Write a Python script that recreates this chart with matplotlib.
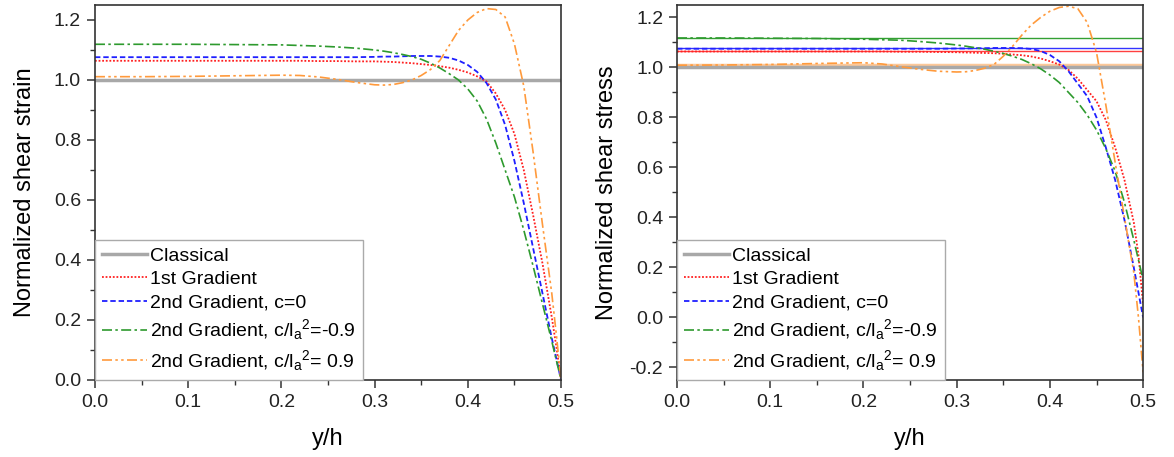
import numpy as np
import matplotlib
matplotlib.use("Agg")
import matplotlib.pyplot as plt

plt.rcParams['font.family'] = ['Liberation Sans', 'DejaVu Sans']
plt.rcParams['mathtext.default'] = 'regular'

yh = [0.0, 0.05, 0.1, 0.15, 0.2, 0.22, 0.24, 0.26, 0.28, 0.30, 0.31, 0.32, 0.33,
      0.34, 0.35, 0.36, 0.37, 0.38, 0.39, 0.40, 0.41, 0.42, 0.43, 0.44, 0.45,
      0.46, 0.47, 0.48, 0.49, 0.495, 0.5]

# normalized shear strain
strain_classical = [1.0] * len(yh)
strain_grad1 = [1.064, 1.064, 1.064, 1.064, 1.064, 1.064, 1.063, 1.063, 1.062, 1.062,
                1.061, 1.060, 1.058, 1.056, 1.053, 1.050, 1.046, 1.041, 1.034, 1.025,
                1.012, 0.995, 0.955, 0.90, 0.82, 0.70, 0.55, 0.39, 0.21, 0.11, 0.0]
strain_grad2_c0 = [1.076, 1.076, 1.076, 1.076, 1.076, 1.076, 1.076, 1.076, 1.076, 1.077,
                   1.078, 1.078, 1.079, 1.080, 1.080, 1.080, 1.078, 1.074, 1.065, 1.050,
                   1.027, 0.990, 0.935, 0.85, 0.73, 0.59, 0.44, 0.29, 0.14, 0.07, 0.0]
strain_grad2_neg = [1.119, 1.119, 1.119, 1.118, 1.117, 1.115, 1.113, 1.110, 1.106, 1.100,
                    1.096, 1.091, 1.085, 1.078, 1.069, 1.056, 1.040, 1.021, 1.000, 0.970,
                    0.930, 0.870, 0.790, 0.70, 0.61, 0.50, 0.38, 0.255, 0.13, 0.065, 0.0]
strain_grad2_pos = [1.011, 1.011, 1.012, 1.014, 1.016, 1.015, 1.010, 1.002, 0.992, 0.984,
                    0.983, 0.985, 0.991, 1.000, 1.015, 1.035, 1.065, 1.115, 1.165, 1.200,
                    1.225, 1.238, 1.235, 1.21, 1.12, 0.98, 0.76, 0.52, 0.29, 0.15, 0.0]

# normalized shear stress
stress_classical = [1.0] * len(yh)
stress_grad1 = [1.064, 1.064, 1.064, 1.064, 1.064, 1.064, 1.063, 1.063, 1.062, 1.061,
                1.060, 1.059, 1.058, 1.057, 1.055, 1.052, 1.049, 1.044, 1.036, 1.025,
                1.012, 0.990, 0.955, 0.91, 0.865, 0.79, 0.68, 0.55, 0.38, 0.25, 0.05]
stress_grad2_c0 = [1.075, 1.075, 1.075, 1.075, 1.075, 1.075, 1.075, 1.075, 1.075, 1.076,
                   1.076, 1.077, 1.077, 1.078, 1.078, 1.078, 1.077, 1.074, 1.066, 1.050,
                   1.025, 0.985, 0.935, 0.885, 0.80, 0.68, 0.55, 0.39, 0.20, 0.10, 0.0]
stress_grad2_neg = [1.118, 1.118, 1.117, 1.116, 1.113, 1.111, 1.109, 1.104, 1.098, 1.090,
                    1.085, 1.079, 1.073, 1.065, 1.056, 1.045, 1.032, 1.015, 0.995, 0.970,
                    0.940, 0.900, 0.860, 0.81, 0.75, 0.675, 0.585, 0.46, 0.31, 0.23, 0.15]
stress_grad2_pos = [1.009, 1.010, 1.012, 1.016, 1.019, 1.014, 1.003, 0.993, 0.985, 0.982,
                    0.983, 0.988, 0.997, 1.012, 1.045, 1.085, 1.130, 1.170, 1.200, 1.225,
                    1.240, 1.245, 1.235, 1.18, 1.06, 0.85, 0.62, 0.40, 0.18, 0.0, -0.22]
# flat reference levels drawn across the stress panel
stress_levels = [1.118, 1.076, 1.065, 1.010]

labels = ['Classical', '1st Gradient', '2nd Gradient, c=0',
          r'2nd Gradient, c/l$_a$$^2$=-0.9', r'2nd Gradient, c/l$_a$$^2$= 0.9']
colors = ['#a8a8a8', '#ff2020', '#1f1fff', '#2e9a2e', '#ff9a3c']
styles = ['-', (0, (1, 1)), (0, (3, 1.6)), (0, (6, 2, 1.5, 2)),
          (0, (6, 2, 1.5, 2, 1.5, 2))]
widths = [2.5, 1.3, 1.3, 1.2, 1.2]
level_colors = ['#33a033', '#3333ff', '#ff4040', '#fcc899']
level_widths = [1.0, 1.0, 1.0, 2.5]

fig = plt.figure(figsize=(11.74, 4.57), dpi=100)
ax1 = fig.add_axes([0.0809, 0.1685, 0.397, 0.8206])
ax2 = fig.add_axes([0.5767, 0.1685, 0.397, 0.8206])

strain = [strain_classical, strain_grad1, strain_grad2_c0, strain_grad2_neg, strain_grad2_pos]
stress = [stress_classical, stress_grad1, stress_grad2_c0, stress_grad2_neg, stress_grad2_pos]

for ax, data in [(ax1, strain), (ax2, stress)]:
    for vals, lab, c, ls, lw in zip(data, labels, colors, styles, widths):
        ax.plot(yh, vals, color=c, linestyle=ls, linewidth=lw, label=lab)

for lev, c, lw in zip(stress_levels, level_colors, level_widths):
    ax2.axhline(lev, color=c, linewidth=lw, zorder=1)

for ax in (ax1, ax2):
    ax.set_xlim(0, 0.5)
    ax.set_xticks(np.arange(0, 0.51, 0.1))
    ax.set_xticks(np.arange(0.05, 0.5, 0.1), minor=True)
    ax.xaxis.set_major_formatter(plt.FormatStrFormatter('%.1f'))
    ax.yaxis.set_major_formatter(plt.FormatStrFormatter('%.1f'))
    ax.tick_params(which='major', direction='out', length=6, width=1.1,
                   labelsize=14, pad=4, colors='#333333', labelcolor='#222222')
    ax.tick_params(which='minor', direction='out', length=3.5, width=1.0, colors='#333333')
    for sp in ax.spines.values():
        sp.set_color('#333333')
        sp.set_linewidth(1.2)
    ax.set_xlabel('y/h', fontsize=17, labelpad=12)
    leg = ax.legend(loc='lower left', bbox_to_anchor=(0, 0), borderaxespad=0,
                    fontsize=14, handlelength=2.3, handletextpad=0.2,
                    labelspacing=0.3, borderpad=0.35, fancybox=False,
                    framealpha=1, edgecolor='#aaaaaa')
    leg.get_frame().set_linewidth(1.0)

ax1.set_ylim(0, 1.25)
ax1.set_yticks(np.arange(0, 1.21, 0.2))
ax1.set_yticks(np.arange(0.1, 1.21, 0.2), minor=True)
ax1.set_ylabel('Normalized shear strain', fontsize=17, labelpad=13)

ax2.set_ylim(-0.25, 1.25)
ax2.set_yticks(np.arange(-0.2, 1.21, 0.2))
ax2.set_yticks(np.arange(-0.1, 1.21, 0.2), minor=True)
ax2.set_ylabel('Normalized shear stress', fontsize=17, labelpad=8)

plt.savefig('out.png', dpi=100)
